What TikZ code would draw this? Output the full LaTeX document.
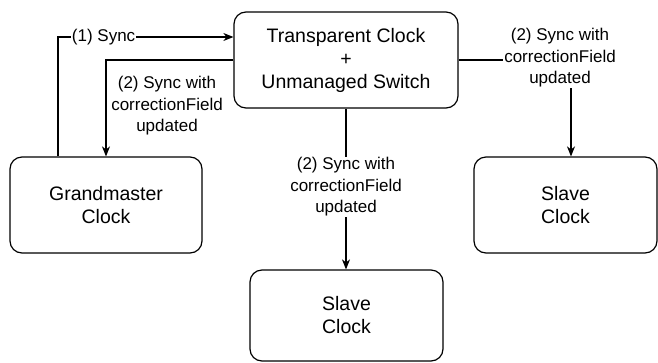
\documentclass[tikz,border=0pt]{standalone}
\usepackage{fontspec}
\setmainfont{Liberation Sans}
\usetikzlibrary{arrows.meta}
\begin{document}
\begin{tikzpicture}[x=1pt,y=-1pt,
  box/.style={draw, line width=1.2pt, rounded corners=12pt, fill=white,
    align=center, inner sep=0pt, font=\fontsize{19.5}{23}\selectfont},
  lbl/.style={align=center, inner sep=1pt, font=\fontsize{17}{21.5}\selectfont},
  arr/.style={line width=1.2pt, -{Stealth[length=10pt,width=8pt,inset=3pt]}}]
\useasboundingbox (0,0) rectangle (658,362);
% clock boxes
\node[box, minimum width=224pt, minimum height=96pt] (tc) at (346,60)
  {Transparent Clock\\+\\Unmanaged Switch};
\node[box, minimum width=192pt, minimum height=96pt] (gm) at (106,205)
  {Grandmaster\\Clock};
\node[box, minimum width=183pt, minimum height=96pt] (sr) at (565.5,205)
  {Slave\\Clock};
\node[box, minimum width=193pt, minimum height=91pt] (sb) at (346.5,315.5)
  {Slave\\Clock};
% sync messages
\draw[arr] ([xshift=-48pt]gm.north) |- ([yshift=23pt]tc.west)
  node[lbl, fill=white, pos=0.63] (l1) {(1) Sync};
\draw[arr] (tc.west) -| (gm.north);
\draw[arr] (tc.east) -| ([xshift=5.5pt]sr.north);
\draw[arr] (tc.south) -- (tc.south |- sb.north);
% message labels
\node[lbl] (l2) at (167,106) {(2) Sync with\\correctionField\\updated};
\node[lbl, fill=white] (l3) at (560,58) {(2) Sync with\\correctionField\\updated};
\node[lbl, fill=white] (l4) at (346,187) {(2) Sync with\\correctionField\\updated};
\end{tikzpicture}
\end{document}
